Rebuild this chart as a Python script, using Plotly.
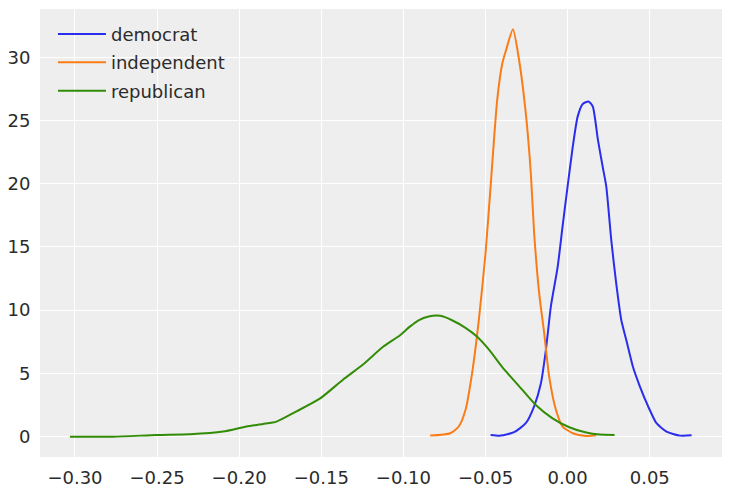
import plotly.graph_objects as go

# democrat
dem_x = [-0.0469, -0.0408, -0.0326, -0.0255, -0.0204, -0.0163, -0.0132, -0.0102, -0.0061, -0.0031,
         0.0, 0.0031, 0.0061, 0.0092, 0.0127, 0.0153, 0.0184, 0.0214, 0.0235, 0.0266, 0.0296,
         0.0327, 0.0358, 0.0398, 0.0439, 0.049, 0.0541, 0.0602, 0.0684, 0.0755]
dem_y = [0.13, 0.08, 0.35, 1.06, 2.4, 4.2, 6.9, 10.3, 13.4, 16.6,
         19.8, 22.9, 25.3, 26.3, 26.5, 26.1, 23.5, 21.3, 19.8, 15.5, 12.1,
         9.2, 7.6, 5.5, 4.0, 2.4, 1.06, 0.4, 0.08, 0.1]

# independent
ind_x = [-0.0837, -0.0714, -0.0663, -0.0622, -0.0582, -0.0541, -0.05, -0.0469, -0.0429, -0.0398,
         -0.0374, -0.0333, -0.0296, -0.0255, -0.0224, -0.0204, -0.0173, -0.0143, -0.0112, -0.0071,
         -0.0031, 0.0031, 0.0113, 0.0174]
ind_y = [0.08, 0.27, 0.8, 2.1, 5.0, 9.2, 14.5, 19.8, 26.6, 29.5,
         30.6, 32.2, 29.8, 25.6, 20.8, 16.1, 11.3, 8.2, 4.7, 2.1,
         0.8, 0.27, 0.05, 0.1]

# republican
rep_x = [-0.3031, -0.2768, -0.2503, -0.2301, -0.2098, -0.1956, -0.1855, -0.1773, -0.1651, -0.1509,
         -0.1368, -0.1246, -0.1124, -0.1022, -0.0961, -0.0908, -0.0847, -0.0775, -0.0704, -0.0622,
         -0.0551, -0.048, -0.0398, -0.0296, -0.0194, -0.0092, 0.001, 0.0113, 0.0194, 0.0286]
rep_y = [0.0, 0.0, 0.13, 0.19, 0.4, 0.8, 1.0, 1.19, 2.0, 3.0,
         4.5, 5.7, 7.1, 8.0, 8.7, 9.2, 9.5, 9.55, 9.2, 8.6,
         7.9, 6.9, 5.5, 4.0, 2.5, 1.45, 0.74, 0.32, 0.16, 0.13]

x_ticks = [-0.30, -0.25, -0.20, -0.15, -0.10, -0.05, 0.00, 0.05]
x_tick_labels = ["−0.30", "−0.25", "−0.20", "−0.15", "−0.10", "−0.05", "0.00", "0.05"]
y_ticks = [0, 5, 10, 15, 20, 25, 30]

series = [
    ("democrat", dem_x, dem_y, "#2a2eec"),
    ("independent", ind_x, ind_y, "#fa7c17"),
    ("republican", rep_x, rep_y, "#328c06"),
]

fig = go.Figure()
for name, xs, ys, col in series:
    fig.add_trace(go.Scatter(x=xs, y=ys, mode="lines", name=name, legendgroup=name,
                             line=dict(color=col, width=2, shape="spline", smoothing=0.6)))

font = dict(family="DejaVu Sans", size=18, color="#2b2b2b")
fig.update_layout(
    width=731, height=491,
    margin=dict(l=40, r=9, t=9, b=34, autoexpand=False),
    paper_bgcolor="white",
    plot_bgcolor="#eeeeee",
    font=font,
    showlegend=True,
    legend=dict(x=0.019, y=0.985, xanchor="left", yanchor="top", bgcolor="rgba(0,0,0,0)",
                font=dict(family="DejaVu Sans", size=18, color="#2b2b2b"),
                traceorder="grouped", tracegroupgap=2, itemwidth=48),
    xaxis=dict(range=[-0.3213, 0.0940], tickvals=x_ticks, ticktext=x_tick_labels,
               showgrid=True, gridcolor="white", gridwidth=1, zeroline=False, automargin=False,
               showline=False, ticks="outside", ticklen=4, tickcolor="rgba(0,0,0,0)"),
    yaxis=dict(range=[-1.61, 33.81], tickvals=y_ticks, automargin=False,
               showgrid=True, gridcolor="white", gridwidth=1, zeroline=False,
               showline=False, ticks="outside", ticklen=5, tickcolor="rgba(0,0,0,0)"),
)

fig.write_html("out.html")
